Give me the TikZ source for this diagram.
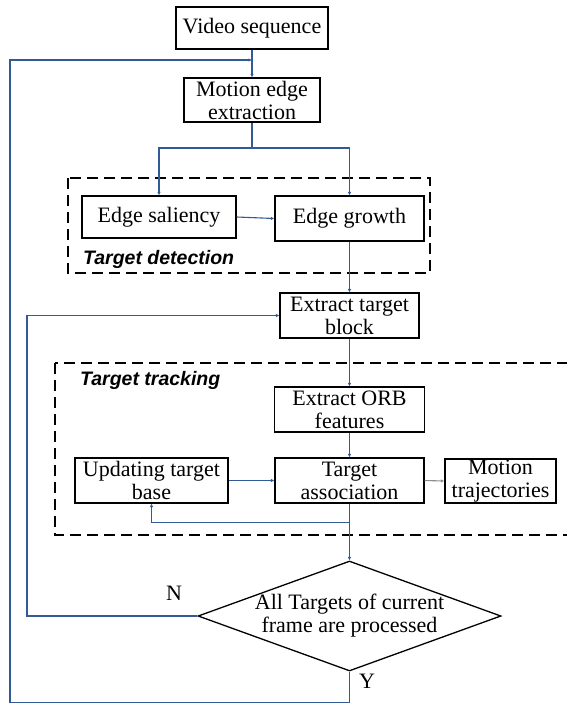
\documentclass[tikz,border=0pt]{standalone}
\usepackage{fontspec}
\setmainfont{Liberation Serif}
\newfontfamily\labelfont{Liberation Sans}
\usetikzlibrary{arrows.meta,shapes.geometric}
\definecolor{lineblue}{RGB}{50,90,150}
\definecolor{linegray}{RGB}{140,140,140}
\begin{document}
\begin{tikzpicture}[x=1pt,y=-1pt,
  txt/.style={font=\fontsize{22}{23}\selectfont},
  box/.style={txt,draw=black,line width=1.3pt,rectangle,inner sep=0pt,align=center},
  conn/.style={draw=lineblue,line width=1.1pt},
  arr/.style={-{Latex[length=3.5pt,width=3.5pt]}},
  dashedbox/.style={draw=black,line width=1.4pt,dash pattern=on 11pt off 6pt},
  grouplabel/.style={font=\labelfont\bfseries\itshape\fontsize{19.5}{19.5}\selectfont,inner sep=0pt}]
\useasboundingbox (0,0) rectangle (566,704);

% dashed groups
\draw[dashedbox] (68,178) rectangle (430,273);
\draw[dashedbox] (55,363) rectangle (590,535);
\node[grouplabel,anchor=west] (lbldet) at (83,259) {Target detection};
\node[grouplabel,anchor=west] (lbltrk) at (80,380) {Target tracking};

% boxes
\node[box,minimum width=152pt,minimum height=42pt] (video) at (252,28) {Video sequence};
\node[box,minimum width=136pt,minimum height=44pt] (motion) at (252,100) {Motion edge\\extraction};
\node[box,minimum width=154pt,minimum height=42pt] (saliency) at (159,217) {Edge saliency};
\node[box,minimum width=149pt,minimum height=45pt] (growth) at (349.5,218.5) {Edge growth};
\node[box,minimum width=139pt,minimum height=45pt] (extract) at (349.5,315.5) {Extract target\\block};
\node[box,minimum width=150pt,minimum height=45pt] (orb) at (349.5,409.5) {Extract ORB\\features};
\node[box,minimum width=149pt,minimum height=45pt] (assoc) at (349.5,480.5) {Target\\association};
\node[box,minimum width=153pt,minimum height=45pt] (update) at (151.5,480.5) {Updating target\\base};
\node[box,minimum width=111pt,minimum height=44pt] (traj) at (500.5,481) {Motion\\trajectories};
\node[diamond,draw=black,line width=1.3pt,inner sep=0pt,minimum width=303pt,minimum height=110pt] (dec) at (349.5,616) {};
\node[txt,align=center,inner sep=0pt] (dectext) at (dec.center) {All Targets of current\\frame are processed};

% labels
\node[txt,inner sep=0pt] (nlbl) at (174,593) {N};
\node[txt,inner sep=0pt] (ylbl) at (367,681) {Y};

% coordinates
\coordinate (j1) at (252,60);
\coordinate (split) at (252,148);

% connectors
\draw[conn,arr] (video.south) -- (motion.north);
\draw[conn,arr] (dec.south) -- ++(0,31) -| (10,60) -- (j1);
\draw[conn] (motion.south) -- (split);
\draw[conn,arr] (split) -| (saliency.north);
\draw[conn,arr] (split) -| (growth.north);
\draw[conn,arr] (saliency.east) -- (growth.west);
\draw[conn,arr] (growth.south) -- (extract.north);
\draw[conn,arr] (dec.west) -| (27,315.5) -- (extract.west);
\draw[conn,arr] (extract.south) -- (orb.north);
\draw[conn,arr] (orb.south) -- (assoc.north);
\draw[conn,arr] (update.east) -- (assoc.west);
\draw[draw=linegray,line width=1.1pt,arr] (assoc.east) -- (traj.west);
\draw[conn,arr] (assoc.south) -- ++(0,19) -| (update.south);
\draw[conn,arr] (assoc.south) -- (dec.north);
\end{tikzpicture}
\end{document}
